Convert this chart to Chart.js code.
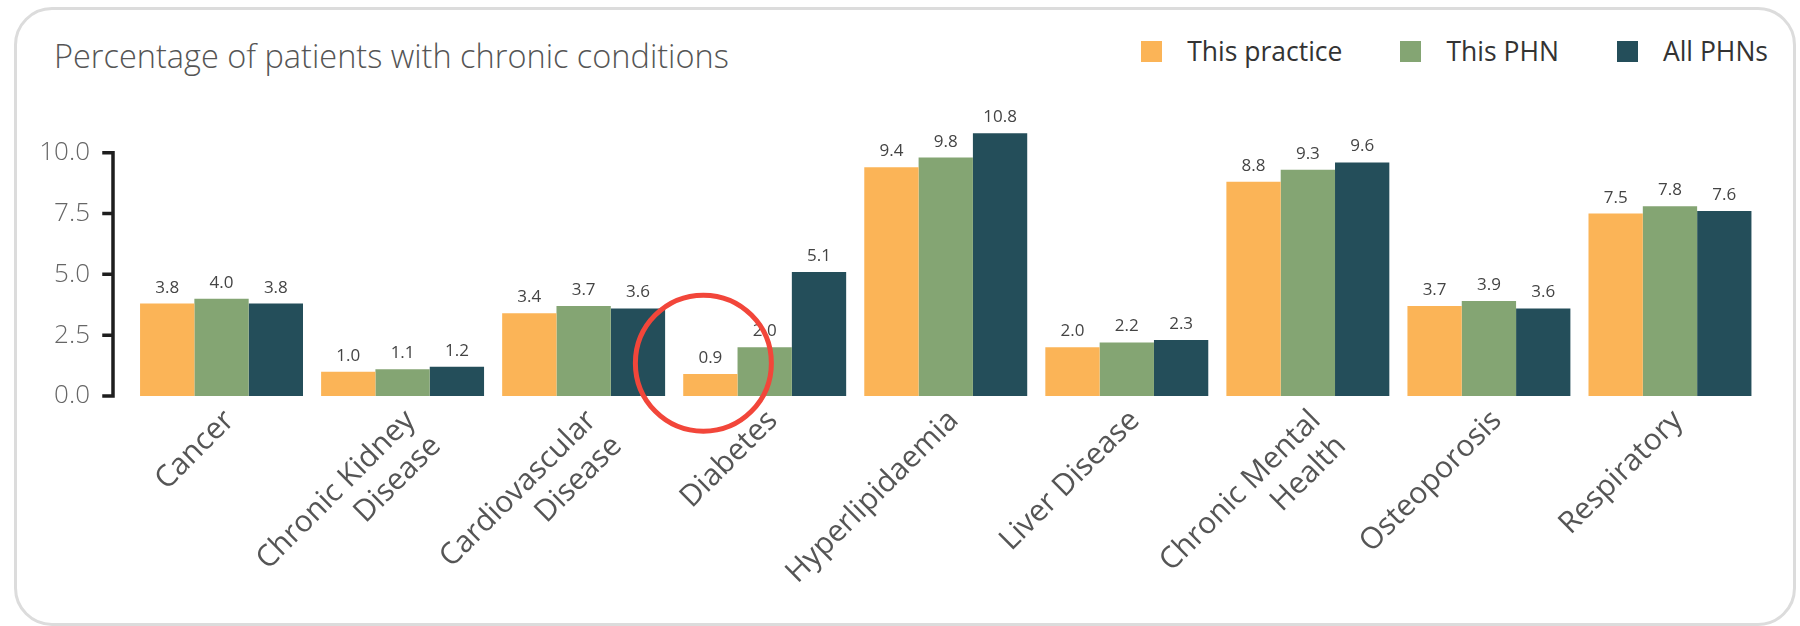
<!DOCTYPE html>
<html>
<head>
<meta charset="utf-8">
<script src="https://cdn.jsdelivr.net/npm/chart.js@4.4.1/dist/chart.umd.min.js"></script>
<style>
  html, body { margin: 0; padding: 0; background: #fff; width: 1800px; height: 626px; overflow: hidden; }
  #card { position: absolute; left: 14px; top: 7px; width: 1782px; height: 619px; box-sizing: border-box;
          border: 3px solid #dcdcdc; border-radius: 38px; }
  #title { position: absolute; left: 54px; top: 40px; font-family: "Open Sans", sans-serif; font-weight: 300;
           font-size: 32.5px; line-height: 1; color: #555; white-space: nowrap; }
  #legend { position: absolute; right: 32px; top: 38px; display: flex; font-family: "Open Sans", sans-serif;
            font-size: 26.5px; line-height: 1; color: #333; }
  .item { display: flex; align-items: center; margin-left: 58px; }
  .box { width: 21px; height: 21px; margin-right: 25px; }
  canvas { position: absolute; left: 0; top: 0; }
</style>
</head>
<body>
<div id="card"></div>
<div id="title">Percentage of patients with chronic conditions</div>
<div id="legend"></div>
<canvas id="c" width="1800" height="626"></canvas>
<script>
const categories = [
  'Cancer',
  ['Chronic Kidney', 'Disease'],
  ['Cardiovascular', 'Disease'],
  'Diabetes',
  'Hyperlipidaemia',
  'Liver Disease',
  ['Chronic Mental', 'Health'],
  'Osteoporosis',
  'Respiratory'
];
const seriesNames = ['This practice', 'This PHN', 'All PHNs'];
const thisPractice = [3.8, 1.0, 3.4, 0.9, 9.4, 2.0, 8.8, 3.7, 7.5];
const thisPHN      = [4.0, 1.1, 3.7, 2.0, 9.8, 2.2, 9.3, 3.9, 7.8];
const allPHNs      = [3.8, 1.2, 3.6, 5.1, 10.8, 2.3, 9.6, 3.6, 7.6];
const yTicks = [0, 2.5, 5.0, 7.5, 10.0];
const colors = ['#FBB457', '#84A573', '#244E5A'];
const highlightCategory = 3;  // Diabetes
const highlightValue = 1.35;

// HTML legend
const legendEl = document.getElementById('legend');
seriesNames.forEach((n, i) => {
  const it = document.createElement('div'); it.className = 'item';
  const b = document.createElement('div'); b.className = 'box'; b.style.background = colors[i];
  const t = document.createElement('span'); t.textContent = n;
  it.appendChild(b); it.appendChild(t); legendEl.appendChild(it);
});

const valueLabels = {
  id: 'valueLabels',
  afterDatasetsDraw(chart) {
    const ctx = chart.ctx;
    ctx.save();
    ctx.font = '17px "Open Sans", sans-serif';
    ctx.fillStyle = '#444';
    ctx.textAlign = 'center';
    ctx.textBaseline = 'alphabetic';
    chart.data.datasets.forEach((ds, di) => {
      const meta = chart.getDatasetMeta(di);
      meta.data.forEach((el, i) => {
        ctx.fillText(ds.data[i].toFixed(1), el.x, el.y - 11);
      });
    });
    ctx.restore();
  }
};

const yAxisLine = {
  id: 'yAxisLine',
  afterDraw(chart) {
    const ctx = chart.ctx, y = chart.scales.y;
    const x = chart.chartArea.left - 18;
    ctx.save();
    ctx.strokeStyle = '#1e1e1e';
    ctx.lineWidth = 3.5;
    ctx.lineCap = 'square';
    ctx.beginPath();
    ctx.moveTo(x, y.getPixelForValue(yTicks[0]));
    ctx.lineTo(x, y.getPixelForValue(yTicks[yTicks.length - 1]));
    yTicks.forEach(v => {
      const py = y.getPixelForValue(v);
      ctx.moveTo(x - 9, py);
      ctx.lineTo(x, py);
    });
    ctx.stroke();
    ctx.restore();
  }
};

const highlight = {
  id: 'highlight',
  afterDraw(chart) {
    const ctx = chart.ctx;
    const el = chart.getDatasetMeta(0).data[highlightCategory];
    const cx = el.x - 7;
    const cy = chart.scales.y.getPixelForValue(highlightValue);
    ctx.save();
    ctx.strokeStyle = '#F2463A';
    ctx.lineWidth = 5;
    ctx.beginPath();
    ctx.arc(cx, cy, 68, 0, Math.PI * 2);
    ctx.stroke();
    ctx.restore();
  }
};

new Chart(document.getElementById('c'), {
  type: 'bar',
  data: {
    labels: categories,
    datasets: [
      { label: seriesNames[0], data: thisPractice, backgroundColor: colors[0] },
      { label: seriesNames[1], data: thisPHN, backgroundColor: colors[1] },
      { label: seriesNames[2], data: allPHNs, backgroundColor: colors[2] }
    ]
  },
  options: {
    responsive: false,
    animation: false,
    devicePixelRatio: 1,
    layout: { padding: { top: 104, left: 0, right: 39.5, bottom: 0 } },
    datasets: { bar: { categoryPercentage: 0.9, barPercentage: 1.0 } },
    plugins: { legend: { display: false }, title: { display: false }, tooltip: { enabled: false } },
    scales: {
      x: {
        grid: { display: false, drawTicks: false },
        border: { display: false },
        ticks: {
          autoSkip: false, maxRotation: 45, minRotation: 45, padding: 7, labelOffset: 8,
          color: '#555', font: { family: '"Open Sans", sans-serif', size: 30 }
        },
        afterFit(s) { s.height = 230; }
      },
      y: {
        min: 0, max: 12,
        grid: { display: false, drawTicks: false },
        border: { display: false },
        afterBuildTicks(s) { s.ticks = yTicks.map(v => ({ value: v })); },
        ticks: {
          padding: 41, color: '#666',
          font: { family: '"Open Sans", sans-serif', size: 26, weight: 300 },
          callback: v => Number(v).toFixed(1)
        },
        afterFit(s) { s.width = 131; }
      }
    }
  },
  plugins: [valueLabels, yAxisLine, highlight]
});
</script>
</body>
</html>
